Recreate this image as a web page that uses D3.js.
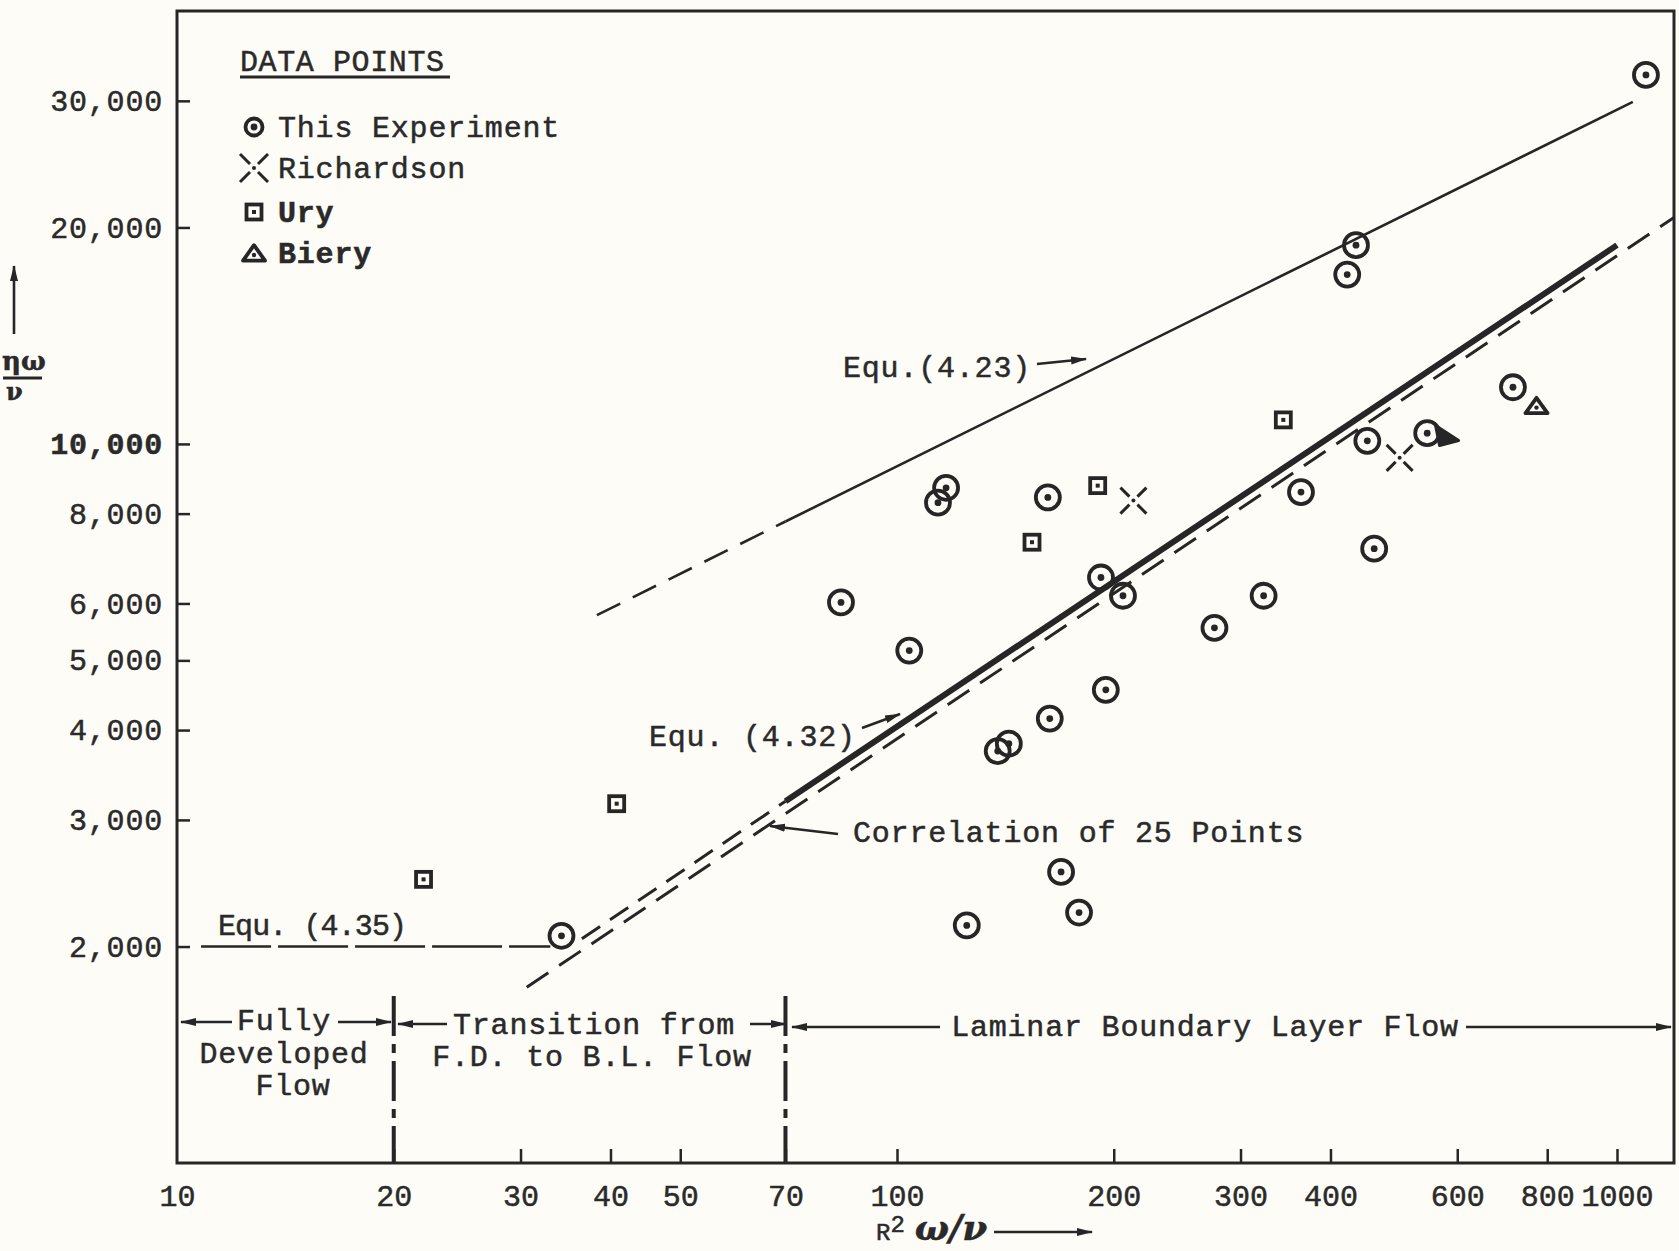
<!DOCTYPE html>
<html>
<head>
<meta charset="utf-8">
<script src="https://cdn.jsdelivr.net/npm/d3@7"></script>
<style>
  body { margin: 0; background: #fdfcf7; }
  text { font-family: "Liberation Mono", "Courier New", monospace; fill: #2a2a2a; stroke: #2a2a2a; stroke-width: 0.5px; }
</style>
</head>
<body>
<script>
// R^2 w/v (x) against h w/v (y)
var thisExperiment = [
  [1097, 32600], [434, 18900], [422, 17200], [717, 11990], [545, 10350],
  [450, 10100], [364, 8570], [460, 7150], [323, 6150], [276, 5550],
  [206, 6150], [192, 6520], [195, 4550], [162, 8425], [163, 4150],
  [117, 8690], [114, 8285], [104, 5160], [83.6, 6020], [143, 3830],
  [138, 3740], [169, 2540], [179, 2230], [125, 2140], [34.2, 2070]
];
var richardson = [[213, 8340], [499, 9565]];
var ury = [[22.0, 2480], [40.8, 3160], [154, 7300], [190, 8750], [344, 10800]];
var biery = [[773, 11270]];
var bieryBlot = [[578, 10240]];

// lines (end points)
var eq423Dashed = [[38.3, 5780], [70, 7800]];
var eq423Solid = [[70, 7800], [1052, 29900]];
var eq432Solid = [[70, 3185], [1000, 18900]];
var eq432Dashed = [[36.5, 2050], [70, 3185]];
var correlation = [[30.6, 1755], [1200, 20650]];
var eq435 = [[10.8, 2000], [33, 2000]];

var xTicks = [10, 20, 30, 40, 50, 70, 100, 200, 300, 400, 600, 800, 1000];
var xTickLabels = ["10", "20", "30", "40", "50", "70", "100", "200", "300", "400", "600", "800", "1000"];
var yTicks = [30000, 20000, 10000, 8000, 6000, 5000, 4000, 3000, 2000];
var yTickLabels = ["30,000", "20,000", "10,000", "8,000", "6,000", "5,000", "4,000", "3,000", "2,000"];
var dividers = [20, 70];

var W = 1679, H = 1251;
var margin = {top: 11, right: 5, bottom: 88, left: 177};
var ink = "#262626";

var svg = d3.select("body").append("svg")
    .attr("width", W)
    .attr("height", H);

var defs = svg.append("defs");
defs.append("marker")
    .attr("id", "arr")
    .attr("markerUnits", "userSpaceOnUse")
    .attr("markerWidth", 16).attr("markerHeight", 10)
    .attr("refX", 15).attr("refY", 5)
    .attr("orient", "auto")
  .append("path")
    .attr("d", "M0,1 L16,5 L0,9 Z")
    .attr("fill", ink);

var x = d3.scaleLog().domain([10, 1200]).range([margin.left, W - margin.right]);
var y = d3.scaleLog().domain([1000, 40000]).range([H - margin.bottom, margin.top]);

var line = d3.line()
    .x(function(d) { return x(d[0]); })
    .y(function(d) { return y(d[1]); });

// frame
svg.append("rect")
    .attr("x", x(10)).attr("y", y(40000))
    .attr("width", x(1200) - x(10)).attr("height", y(1000) - y(40000))
    .attr("fill", "none").attr("stroke", ink).attr("stroke-width", 3);

// x axis ticks (pointing up) and labels
var xAxis = d3.axisBottom(x)
    .tickValues(xTicks)
    .tickSizeInner(-14)
    .tickSizeOuter(0)
    .tickPadding(22)
    .tickFormat(function(d, i) { return xTickLabels[i]; });
var gx = svg.append("g")
    .attr("transform", "translate(0," + y(1000) + ")")
    .call(xAxis);
gx.select(".domain").remove();
gx.selectAll(".tick line").attr("stroke", ink).attr("stroke-width", 2.5)
    .attr("opacity", function(d) { return d === 10 ? 0 : 1; });
gx.selectAll(".tick text")
    .style("font-family", "Liberation Mono, monospace")
    .attr("font-size", 30).attr("fill", "#333");

// y axis ticks (pointing right) and labels
var yAxis = d3.axisLeft(y)
    .tickValues(yTicks)
    .tickSizeInner(-13)
    .tickSizeOuter(0)
    .tickPadding(14)
    .tickFormat(function(d, i) { return yTickLabels[i]; });
var gy = svg.append("g")
    .attr("transform", "translate(" + x(10) + ",0)")
    .call(yAxis);
gy.select(".domain").remove();
gy.selectAll(".tick line").attr("stroke", ink).attr("stroke-width", 2.5);
gy.selectAll(".tick text")
    .style("font-family", "Liberation Mono, monospace")
    .attr("font-size", 30).attr("fill", "#333")
    .attr("font-weight", function(d) { return d === 10000 ? "bold" : "normal"; })
    .attr("letter-spacing", 0.8);

// region dividers
svg.selectAll(".divider")
    .data(dividers)
  .enter().append("line")
    .attr("class", "divider")
    .attr("x1", function(d) { return x(d); })
    .attr("x2", function(d) { return x(d); })
    .attr("y1", 996).attr("y2", y(1000))
    .attr("stroke", ink).attr("stroke-width", 4)
    .attr("stroke-dasharray", "40,8,9,8");

// curves
function drawLine(data, width, dash) {
  svg.append("path")
      .datum(data)
      .attr("d", line)
      .attr("fill", "none")
      .attr("stroke", ink)
      .attr("stroke-width", width)
      .attr("stroke-dasharray", dash);
}
drawLine(eq423Dashed, 2.6, "26,14");
drawLine(eq423Solid, 2.6, null);
drawLine(eq432Solid, 6, null);
drawLine(eq432Dashed, 3, "22,12");
drawLine(correlation, 3, "26,13");
drawLine(eq435, 2.4, "70,7");

// markers
function circleMark(g, cx, cy, r) {
  g.append("circle").attr("cx", cx).attr("cy", cy).attr("r", r)
      .attr("fill", "none").attr("stroke", ink).attr("stroke-width", 3.8);
  g.append("circle").attr("cx", cx).attr("cy", cy).attr("r", 3.4).attr("fill", ink);
}
function squareMark(g, cx, cy, s) {
  g.append("rect").attr("x", cx - s / 2).attr("y", cy - s / 2).attr("width", s).attr("height", s)
      .attr("fill", "none").attr("stroke", ink).attr("stroke-width", 3.8);
  g.append("rect").attr("x", cx - 2).attr("y", cy - 2).attr("width", 4).attr("height", 4).attr("fill", ink);
}
function crossMark(g, cx, cy, s) {
  [[-1, -1], [1, -1], [-1, 1], [1, 1]].forEach(function(k) {
    g.append("line")
        .attr("x1", cx + k[0] * 4).attr("y1", cy + k[1] * 4)
        .attr("x2", cx + k[0] * s).attr("y2", cy + k[1] * s)
        .attr("stroke", ink).attr("stroke-width", 3);
  });
  g.append("circle").attr("cx", cx).attr("cy", cy).attr("r", 2).attr("fill", ink);
}
function triangleMark(g, cx, cy, s) {
  g.append("path")
      .attr("d", "M" + cx + "," + (cy - s * 0.8) + " L" + (cx + s) + "," + (cy + s * 0.6) +
                 " L" + (cx - s) + "," + (cy + s * 0.6) + " Z")
      .attr("fill", "none").attr("stroke", ink).attr("stroke-width", 3.8).attr("stroke-linejoin", "round");
  g.append("circle").attr("cx", cx).attr("cy", cy + 1).attr("r", 2.2).attr("fill", ink);
}

var marks = svg.append("g");
thisExperiment.forEach(function(d) { circleMark(marks, x(d[0]), y(d[1]), 12); });
richardson.forEach(function(d) { crossMark(marks, x(d[0]), y(d[1]), 13); });
ury.forEach(function(d) { squareMark(marks, x(d[0]), y(d[1]), 15); });
biery.forEach(function(d) { triangleMark(marks, x(d[0]), y(d[1]), 11); });
bieryBlot.forEach(function(d) {
  var cx = x(d[0]), cy = y(d[1]);
  marks.append("path")
      .attr("d", "M" + (cx - 10) + "," + (cy - 11) + " L" + (cx + 13) + "," + (cy + 4) +
                 " L" + (cx - 6) + "," + (cy + 9) + " Z")
      .attr("fill", ink).attr("stroke", ink).attr("stroke-width", 3).attr("stroke-linejoin", "round");
});

// legend
var legend = svg.append("g");
legend.append("text").attr("x", 240).attr("y", 71)
    .attr("font-size", 30).attr("letter-spacing", 0.6).text("DATA POINTS");
legend.append("line").attr("x1", 240).attr("x2", 450).attr("y1", 77).attr("y2", 77)
    .attr("stroke", ink).attr("stroke-width", 2.8);
var legendRows = [
  {label: "This Experiment", y: 137, type: "circle"},
  {label: "Richardson", y: 178, type: "cross"},
  {label: "Ury", y: 222, type: "square"},
  {label: "Biery", y: 263, type: "triangle"}
];
legendRows.forEach(function(r) {
  var cy = r.y - 10;
  if (r.type === "circle") circleMark(legend, 254, cy, 8.5);
  if (r.type === "cross") crossMark(legend, 254, cy, 14);
  if (r.type === "square") squareMark(legend, 254, cy, 15);
  if (r.type === "triangle") triangleMark(legend, 254, cy + 1, 11);
  legend.append("text").attr("x", 278).attr("y", r.y)
      .attr("font-size", 30).attr("letter-spacing", 0.8)
      .attr("font-weight", r.type === "circle" || r.type === "cross" ? "normal" : "bold")
      .text(r.label);
});

// annotations
function arrow(x1, y1, x2, y2) {
  svg.append("line")
      .attr("x1", x1).attr("y1", y1).attr("x2", x2).attr("y2", y2)
      .attr("stroke", ink).attr("stroke-width", 2.6)
      .attr("marker-end", "url(#arr)");
}
function label(tx, ty, str, anchor, spacing) {
  svg.append("text").attr("x", tx).attr("y", ty)
      .attr("font-size", 30).attr("letter-spacing", spacing === undefined ? 0.8 : spacing)
      .attr("text-anchor", anchor || "start")
      .text(str);
}
label(843, 377, "Equ.(4.23)");
arrow(1037, 364, 1086, 359);
label(649, 746, "Equ. (4.32)");
arrow(862, 728, 900, 714);
label(853, 842, "Correlation of 25 Points");
arrow(838, 834, 770, 826);
label(218, 935, "Equ. (4.35)", "start", -0.9);

label(284, 1030, "Fully", "middle");
label(284, 1063, "Developed", "middle");
label(293, 1095, "Flow", "middle");
arrow(232, 1022, 181, 1022);
arrow(338, 1022, 391, 1022);

label(594, 1034, "Transition from", "middle");
label(592, 1066, "F.D. to B.L. Flow", "middle");
arrow(447, 1024, 398, 1024);
arrow(750, 1024, 786, 1024);

label(1205, 1036, "Laminar Boundary Layer Flow", "middle");
arrow(940, 1027, 792, 1027);
arrow(1466, 1027, 1671, 1027);

// axis titles
var xt = svg.append("text").attr("x", 876).attr("y", 1240);
xt.append("tspan").attr("font-size", 24).text("R");
xt.append("tspan").attr("font-size", 24).attr("dy", -8).text("2");
xt.append("tspan").attr("dy", 8).attr("dx", 10)
    .style("font-family", "DejaVu Serif, serif")
    .attr("font-size", 36).attr("font-weight", "bold").attr("font-style", "italic")
    .text("\u03c9/\u03bd");
arrow(994, 1232, 1092, 1232);

arrow(14, 334, 14, 266);
svg.append("text").attr("x", 2).attr("y", 370)
    .style("font-family", "DejaVu Serif, serif")
    .attr("font-size", 26).attr("font-weight", "bold").text("\u03b7\u03c9");
svg.append("line").attr("x1", 3).attr("x2", 42).attr("y1", 378).attr("y2", 378)
    .attr("stroke", ink).attr("stroke-width", 3);
svg.append("text").attr("x", 6).attr("y", 400)
    .style("font-family", "DejaVu Serif, serif")
    .attr("font-size", 24).attr("font-weight", "bold").text("\u03bd");
</script>
</body>
</html>
